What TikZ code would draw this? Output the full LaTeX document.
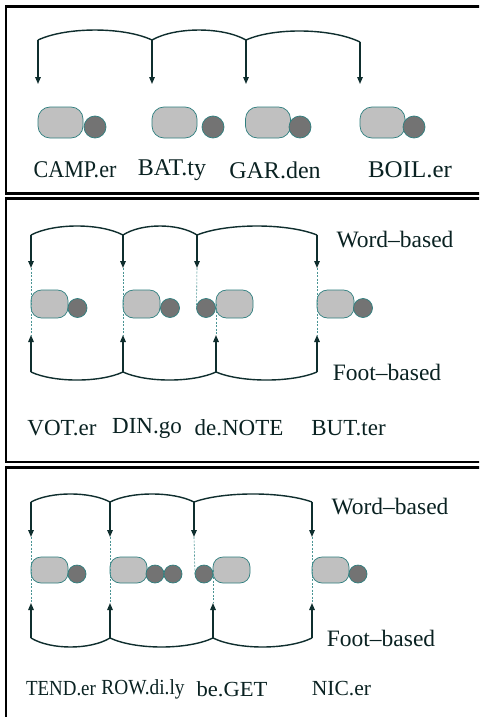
\documentclass[tikz,border=0pt]{standalone}
\usepackage{fontspec}
\setmainfont{Liberation Serif}
\usetikzlibrary{arrows.meta,calc}
\definecolor{lc}{HTML}{0F2E2E}
\definecolor{tc}{HTML}{0A2222}
\definecolor{bo}{HTML}{2F7F7F}
\definecolor{bgf}{HTML}{C0C0C0}
\definecolor{smf}{HTML}{737373}
\definecolor{dc}{HTML}{4A9494}
\tikzset{
  conn/.style={line width=1.4pt, draw=lc},
  arr/.style={conn, -{Triangle[width=5.5pt,length=7pt]}},
  bigA/.style={draw=bo, fill=bgf, line width=0.7pt, rounded corners=12pt, minimum width=45pt, minimum height=31pt, inner sep=0pt, outer sep=0pt},
  bigB/.style={bigA, rounded corners=10.5pt, minimum width=37pt, minimum height=28pt},
  bigC/.style={bigA, rounded corners=10pt, minimum width=37pt, minimum height=26pt},
  smA/.style={circle, draw=bo, fill=smf, line width=0.7pt, minimum size=22pt, inner sep=0pt, outer sep=0pt},
  smB/.style={smA, minimum size=19pt},
  smC/.style={smA, minimum size=18pt},
  dsh/.style={draw=dc, line width=0.6pt, dash pattern=on 2pt off 1.5pt},
  labA/.style={text=tc, font=\fontsize{24}{26}\selectfont, inner sep=0pt},
  labB/.style={text=tc, font=\fontsize{23}{25}\selectfont, inner sep=0pt},
  labC/.style={text=tc, font=\fontsize{21.5}{24}\selectfont, inner sep=0pt},
  side/.style={text=tc, font=\fontsize{23.5}{25}\selectfont, inner sep=0pt},
  panelbox/.style={draw=black, line width=2.2pt}
}
\begin{document}
\begin{tikzpicture}[x=1pt,y=-1pt]
\useasboundingbox (0,0) rectangle (479,717);
\clip (0,0) rectangle (479,717);
\fill[white] (0,0) rectangle (479,717);
% panel frames
\draw[panelbox] (6,6.5) rectangle (495,193.5);
\draw[panelbox] (6,198.5) rectangle (495,462);
\draw[panelbox] (6,467.5) rectangle (495,730);

% ---------------- Panel 1 ----------------
\coordinate (t1a) at (38,40);
\coordinate (t1b) at (152,40);
\coordinate (t1c) at (246,40);
\coordinate (t1d) at (360,42);
\coordinate (a1a) at (38,84);
\coordinate (a1b) at (152,84);
\coordinate (a1c) at (246,84);
\coordinate (a1d) at (360,84);
\draw[conn] (t1a) .. controls ($(t1a)!0.25!(t1b)+(0,-13.3)$) and ($(t1a)!0.75!(t1b)+(0,-13.3)$) .. (t1b)
            .. controls ($(t1b)!0.25!(t1c)+(0,-13.3)$) and ($(t1b)!0.75!(t1c)+(0,-13.3)$) .. (t1c)
            .. controls ($(t1c)!0.25!(t1d)+(0,-13.3)$) and ($(t1c)!0.75!(t1d)+(0,-13.3)$) .. (t1d);
\foreach \p in {a,b,c,d} \draw[arr] (t1\p) -- (a1\p);
\node[bigA] (b1a) at (60.5,122.5) {};
\node[smA]  (s1a) at (95,127) {};
\node[bigA] (b1b) at (174.5,122.5) {};
\node[smA]  (s1b) at (213,127) {};
\node[bigA] (b1c) at (268,122.5) {};
\node[smA]  (s1c) at (300,127) {};
\node[bigA] (b1d) at (382.5,122.5) {};
\node[smA]  (s1d) at (414,127) {};
\node[labA] (l1a) at (75,170) {\scalebox{0.92}[1]{CAMP.er}};
\node[labA] (l1b) at (172,170) {BAT.ty};
\node[labA] (l1c) at (275,170) {GAR.den};
\node[labA] (l1d) at (410,170) {\scalebox{1.04}[1]{BOIL.er}};

% ---------------- Panel 2 ----------------
\coordinate (t2a) at (31,235);
\coordinate (t2b) at (123,235);
\coordinate (t2c) at (197,235);
\coordinate (t2d) at (317,235);
\coordinate (w2a) at (31,268);
\coordinate (w2b) at (123,268);
\coordinate (w2c) at (197,268);
\coordinate (w2d) at (317,268);
\coordinate (u2a) at (31,372);
\coordinate (u2b) at (123,372);
\coordinate (u2c) at (216,372);
\coordinate (u2d) at (317,372);
\coordinate (f2a) at (31,335);
\coordinate (f2b) at (123,335);
\coordinate (f2c) at (216,335);
\coordinate (f2d) at (317,335);
\draw[conn] (t2a) .. controls ($(t2a)!0.25!(t2b)+(0,-12)$) and ($(t2a)!0.75!(t2b)+(0,-12)$) .. (t2b)
            .. controls ($(t2b)!0.25!(t2c)+(0,-12)$) and ($(t2b)!0.75!(t2c)+(0,-12)$) .. (t2c)
            .. controls ($(t2c)!0.25!(t2d)+(0,-12)$) and ($(t2c)!0.75!(t2d)+(0,-12)$) .. (t2d);
\draw[conn] (u2a) .. controls ($(u2a)!0.25!(u2b)+(0,10.7)$) and ($(u2a)!0.75!(u2b)+(0,10.7)$) .. (u2b)
            .. controls ($(u2b)!0.25!(u2c)+(0,10.7)$) and ($(u2b)!0.75!(u2c)+(0,10.7)$) .. (u2c)
            .. controls ($(u2c)!0.25!(u2d)+(0,10.7)$) and ($(u2c)!0.75!(u2d)+(0,10.7)$) .. (u2d);
\foreach \p in {a,b,c,d} {\draw[arr] (t2\p) -- (w2\p); \draw[arr] (u2\p) -- (f2\p);}
\node[bigB] (b2a) at (49.5,304) {};
\node[smB]  (s2a) at (77.5,308) {};
\node[bigB] (b2b) at (141.5,304) {};
\node[smB]  (s2b) at (170,308) {};
\node[smB]  (s2c) at (206,308) {};
\node[bigB] (b2c) at (234.5,304) {};
\node[bigB] (b2d) at (335.5,304) {};
\node[smB]  (s2d) at (363,308) {};
\draw[dsh] (w2a) -- (f2a);
\draw[dsh] (w2b) -- (f2b);
\draw[dsh] (w2c) -- (s2c.west);
\draw[dsh] (b2c.west) -- (f2c);
\draw[dsh] (w2d) -- (f2d);
\node[side] (wb2) at (395,240) {Word–based};
\node[side] (fb2) at (387,372) {Foot–based};
\node[labB] (l2a) at (62,428) {VOT.er};
\node[labB] (l2b) at (147,428) {DIN.go};
\node[labB] (l2c) at (239,428) {de.NOTE};
\node[labB] (l2d) at (348.5,428) {BUT.ter};

% ---------------- Panel 3 ----------------
\coordinate (t3a) at (31,502);
\coordinate (t3b) at (110,502);
\coordinate (t3c) at (194,502);
\coordinate (t3d) at (312,502);
\coordinate (w3a) at (31,537);
\coordinate (w3b) at (110,537);
\coordinate (w3c) at (194,537);
\coordinate (w3d) at (312,537);
\coordinate (u3a) at (31,638);
\coordinate (u3b) at (110,638);
\coordinate (u3c) at (213,638);
\coordinate (u3d) at (312,638);
\coordinate (f3a) at (31,603);
\coordinate (f3b) at (110,603);
\coordinate (f3c) at (213,603);
\coordinate (f3d) at (312,603);
\draw[conn] (t3a) .. controls ($(t3a)!0.25!(t3b)+(0,-10.7)$) and ($(t3a)!0.75!(t3b)+(0,-10.7)$) .. (t3b)
            .. controls ($(t3b)!0.25!(t3c)+(0,-10.7)$) and ($(t3b)!0.75!(t3c)+(0,-10.7)$) .. (t3c)
            .. controls ($(t3c)!0.25!(t3d)+(0,-10.7)$) and ($(t3c)!0.75!(t3d)+(0,-10.7)$) .. (t3d);
\draw[conn] (u3a) .. controls ($(u3a)!0.25!(u3b)+(0,12)$) and ($(u3a)!0.75!(u3b)+(0,12)$) .. (u3b)
            .. controls ($(u3b)!0.25!(u3c)+(0,12)$) and ($(u3b)!0.75!(u3c)+(0,12)$) .. (u3c)
            .. controls ($(u3c)!0.25!(u3d)+(0,12)$) and ($(u3c)!0.75!(u3d)+(0,12)$) .. (u3d);
\foreach \p in {a,b,c,d} {\draw[arr] (t3\p) -- (w3\p); \draw[arr] (u3\p) -- (f3\p);}
\node[bigC] (b3a) at (49.5,570) {};
\node[smC]  (s3a) at (77,574) {};
\node[bigC] (b3b) at (128.5,570) {};
\node[smC]  (s3b) at (155,574) {};
\node[smC]  (s3e) at (173,574) {};
\node[smC]  (s3c) at (204,574) {};
\node[bigC] (b3c) at (231.5,570) {};
\node[bigC] (b3d) at (330.5,570) {};
\node[smC]  (s3d) at (358,574) {};
\draw[dsh] (w3a) -- (f3a);
\draw[dsh] (w3b) -- (f3b);
\draw[dsh] (w3c) -- (s3c.west);
\draw[dsh] (b3c.west) -- (f3c);
\draw[dsh] (w3d) -- (f3d);
\node[side] (wb3) at (390,507) {Word–based};
\node[side] (fb3) at (381,638) {Foot–based};
\node[labC] (l3a) at (61,689) {\scalebox{0.88}[1]{TEND.er}};
\node[labC] (l3b) at (143,689) {\scalebox{0.9}[1]{ROW.di.ly}};
\node[labC] (l3c) at (232,689) {\scalebox{1.05}[1]{be.GET}};
\node[labC] (l3d) at (341.5,689) {NIC.er};
\end{tikzpicture}
\end{document}
